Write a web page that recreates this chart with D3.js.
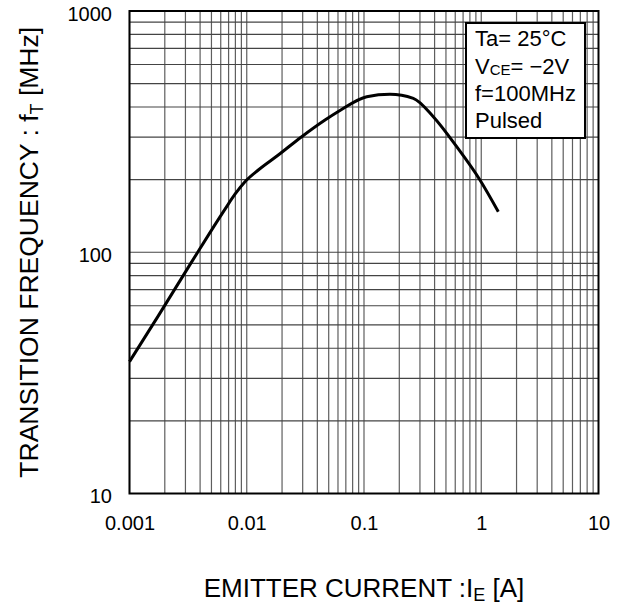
<!DOCTYPE html>
<html>
<head>
<meta charset="utf-8">
<script src="https://cdn.jsdelivr.net/npm/d3@7"></script>
<style>
  html, body { margin: 0; padding: 0; background: #fff; }
  svg { display: block; }
  text { font-family: "Liberation Sans", Arial, sans-serif; fill: #000; }
</style>
</head>
<body>
<svg id="chart" width="622" height="607"></svg>
<script>
// ---- data ----
const emitterCurrent = [0.001, 0.00176, 0.00339, 0.00653, 0.00794, 0.00966, 0.01255, 0.01858, 0.02942, 0.0465, 0.0624, 0.1055, 0.1666, 0.2634, 0.390, 0.6175, 0.975, 1.398];
const transitionFreq = [35.2, 54.5, 91.2, 151, 174, 196, 219.3, 253, 301.3, 353.3, 387, 441.5, 451.6, 434.6, 364.6, 273.8, 199.3, 147.2];
const xTickValues = [0.001, 0.01, 0.1, 1, 10];
const xTickLabels = ["0.001", "0.01", "0.1", "1", "10"];
const yTickValues = [10, 100, 1000];
const yTickLabels = ["10", "100", "1000"];
const legendLines = ["Ta= 25°C", "VCE", "f=100MHz", "Pulsed"];

// ---- layout ----
const svg = d3.select("#chart");
const L = 129.5, R = 598.5, T = 11, B = 493.5;
const x = d3.scaleLog().domain([0.001, 10]).range([L, R]);
const y = d3.scaleLog().domain([10, 1000]).range([B, T]);

// grid
const xGrid = [];
for (let e = -3; e < 1; e++) for (let m = 1; m <= 9; m++) xGrid.push(m * Math.pow(10, e));
const yGrid = [];
for (let e = 1; e < 3; e++) for (let m = 1; m <= 9; m++) yGrid.push(m * Math.pow(10, e));

const g = svg.append("g");
g.selectAll("line.vg").data(xGrid).enter().append("line")
  .attr("x1", d => x(d)).attr("x2", d => x(d))
  .attr("y1", T).attr("y2", B)
  .attr("stroke", "#5e5e5e").attr("stroke-width", 1.2);
g.selectAll("line.hg").data(yGrid).enter().append("line")
  .attr("x1", L).attr("x2", R)
  .attr("y1", d => y(d)).attr("y2", d => y(d))
  .attr("stroke", "#444").attr("stroke-width", 1.2);

// curve
const pts = emitterCurrent.map((c, i) => [c, transitionFreq[i]]);
const line = d3.line().x(d => x(d[0])).y(d => y(d[1])).curve(d3.curveMonotoneX);
g.append("path").datum(pts).attr("d", line)
  .attr("fill", "none").attr("stroke", "#000").attr("stroke-width", 3)
  .attr("stroke-linejoin", "round").attr("stroke-linecap", "butt");

// border
g.append("rect").attr("x", L).attr("y", T).attr("width", R - L).attr("height", B - T)
  .attr("fill", "none").attr("stroke", "#000").attr("stroke-width", 2);

// axes
const xAxis = d3.axisBottom(x).tickValues(xTickValues)
  .tickFormat((d, i) => xTickLabels[i]).tickSize(0).tickPadding(22);
const xa = svg.append("g").attr("transform", `translate(0,${B})`).call(xAxis);
xa.select(".domain").remove();
xa.selectAll("text").attr("font-size", 20).attr("font-family", "Liberation Sans, Arial, sans-serif").attr("fill", "#000");

const yAxis = d3.axisLeft(y).tickValues(yTickValues)
  .tickFormat((d, i) => yTickLabels[i]).tickSize(0).tickPadding(17.5);
const ya = svg.append("g").attr("transform", `translate(${L},0)`).call(yAxis);
ya.select(".domain").remove();
ya.selectAll("text").attr("font-size", 20).attr("font-family", "Liberation Sans, Arial, sans-serif").attr("fill", "#000").attr("dy", "0.45em");

// legend box
svg.append("rect").attr("x", 466).attr("y", 23).attr("width", 119).attr("height", 115)
  .attr("fill", "#fff").attr("stroke", "#000").attr("stroke-width", 2);
const lg = svg.append("g").attr("font-size", 22);
lg.append("text").attr("x", 475).attr("y", 46).text(legendLines[0]);
const v = lg.append("text").attr("x", 475).attr("y", 74);
v.append("tspan").text("V");
v.append("tspan").attr("font-size", 15).attr("dy", 1).text("CE");
v.append("tspan").attr("dy", -1).text("= \u22122V");
lg.append("text").attr("x", 475).attr("y", 101).text(legendLines[2]);
lg.append("text").attr("x", 475).attr("y", 128).text(legendLines[3]);

// axis titles
const xt = svg.append("text").attr("x", (L + R) / 2).attr("y", 597)
  .attr("text-anchor", "middle").attr("font-size", 26);
xt.append("tspan").text("EMITTER CURRENT :I");
xt.append("tspan").attr("font-size", 18).attr("dy", 4).text("E");
xt.append("tspan").attr("dy", -4).text(" [A]");

const yt = svg.append("text").attr("transform", `translate(38,${(T + B) / 2}) rotate(-90)`)
  .attr("text-anchor", "middle").attr("font-size", 26.5);
yt.append("tspan").text("TRANSITION FREQUENCY : f");
yt.append("tspan").attr("font-size", 18).attr("dy", 5).text("T");
yt.append("tspan").attr("dy", -5).text(" [MHz]");
</script>
</body>
</html>
